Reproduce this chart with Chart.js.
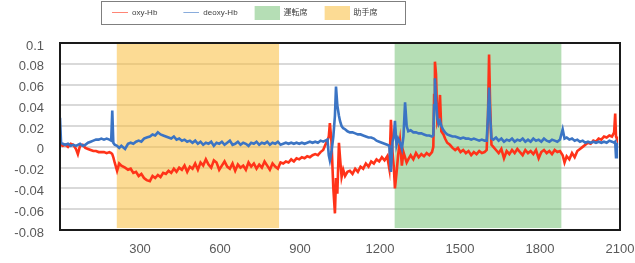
<!DOCTYPE html>
<html><head><meta charset="utf-8">
<script src="https://cdn.jsdelivr.net/npm/chart.js@4.4.1/dist/chart.umd.min.js"></script>
<style>html,body{margin:0;padding:0;background:#fff}#wrap{width:635px;height:263px}</style>
</head><body><div id="wrap"><canvas id="c" width="635" height="263"></canvas></div>
<script>
const time = [0,4,10,20,30,40,50,60,67,75,85,95,105,115,125,135,145,155,165,175,185,192,196,200,205,214,222,230,244,255,265,275,285,295,305,315,325,337,347,357,367,377,387,397,407,417,427,437,447,457,467,477,487,497,507,517,527,537,547,557,567,577,587,597,607,617,627,637,647,657,667,677,687,697,707,717,727,737,747,757,767,777,787,797,807,817,827,837,847,857,867,877,887,897,907,917,927,937,947,957,967,977,987,995,1003,1008,1012,1018,1025,1031,1035,1040,1046,1050,1056,1062,1069,1078,1087,1097,1107,1117,1127,1137,1147,1157,1167,1177,1187,1197,1207,1217,1227,1235,1241,1247,1252,1256,1262,1268,1275,1282,1288,1294,1300,1306,1315,1325,1335,1345,1355,1365,1375,1385,1395,1400,1403,1406,1410,1415,1420,1425,1430,1438,1444,1452,1462,1472,1482,1492,1502,1512,1522,1532,1542,1552,1562,1572,1582,1592,1600,1605,1609,1613,1618,1625,1635,1645,1655,1665,1675,1685,1695,1705,1715,1725,1735,1745,1755,1765,1775,1785,1795,1805,1815,1825,1835,1845,1855,1865,1875,1885,1892,1900,1910,1920,1930,1940,1950,1960,1970,1980,1990,2000,2010,2020,2030,2040,2050,2060,2070,2078,2082,2085,2088];
const oxyHb = [0.002,0.002,0.001,0.002,0.000,0.003,0.002,-0.002,-0.007,0.001,0.002,-0.001,-0.002,-0.003,-0.004,-0.004,-0.005,-0.005,-0.005,-0.006,-0.005,-0.006,-0.007,-0.010,-0.015,-0.023,-0.016,-0.018,-0.020,-0.022,-0.021,-0.025,-0.024,-0.028,-0.026,-0.030,-0.032,-0.033,-0.028,-0.030,-0.027,-0.029,-0.025,-0.026,-0.023,-0.025,-0.021,-0.024,-0.020,-0.022,-0.018,-0.024,-0.019,-0.021,-0.016,-0.022,-0.015,-0.018,-0.012,-0.017,-0.020,-0.013,-0.015,-0.022,-0.018,-0.014,-0.019,-0.021,-0.016,-0.023,-0.017,-0.020,-0.018,-0.022,-0.015,-0.019,-0.016,-0.021,-0.017,-0.020,-0.014,-0.018,-0.022,-0.016,-0.019,-0.021,-0.015,-0.016,-0.014,-0.015,-0.012,-0.014,-0.011,-0.012,-0.010,-0.011,-0.009,-0.010,-0.008,-0.007,-0.008,-0.005,-0.003,0.002,0.006,0.010,0.023,0.005,-0.040,-0.064,-0.030,-0.045,0.004,-0.010,-0.029,-0.022,-0.028,-0.024,-0.023,-0.026,-0.021,-0.024,-0.019,-0.021,-0.016,-0.019,-0.014,-0.016,-0.012,-0.014,-0.010,-0.013,-0.009,-0.021,0.026,-0.005,-0.020,-0.040,-0.025,-0.008,0.006,-0.018,-0.005,-0.010,-0.015,-0.012,-0.008,-0.012,-0.006,-0.010,-0.007,-0.009,-0.006,-0.008,-0.005,0.000,0.050,0.082,0.070,0.025,0.030,0.050,0.015,0.012,0.008,0.004,0.002,-0.001,-0.003,-0.001,-0.005,-0.003,-0.006,-0.004,-0.008,-0.005,-0.007,-0.004,-0.006,-0.005,-0.003,0.030,0.089,0.040,0.002,0.000,-0.003,-0.006,-0.002,-0.011,-0.004,-0.007,-0.003,-0.006,-0.002,-0.005,-0.008,-0.003,-0.006,-0.004,-0.007,-0.003,-0.011,-0.005,-0.003,-0.006,-0.004,-0.007,-0.003,-0.005,-0.004,-0.008,-0.015,-0.009,-0.012,-0.006,-0.010,-0.004,-0.002,0.000,0.002,0.004,0.003,0.006,0.005,0.008,0.007,0.010,0.009,0.011,0.010,0.014,0.032,0.010,0.008];
const deoxyHb = [0.028,0.004,0.003,0.002,0.003,0.001,0.002,0.001,0.002,0.003,0.001,0.002,0.004,0.005,0.006,0.007,0.007,0.008,0.007,0.008,0.007,0.006,0.035,0.004,0.002,0.001,-0.001,0.001,-0.002,0.003,0.004,0.003,0.005,0.006,0.005,0.008,0.009,0.010,0.012,0.011,0.014,0.012,0.011,0.010,0.009,0.008,0.010,0.007,0.008,0.006,0.007,0.005,0.006,0.004,0.006,0.003,0.005,0.002,0.004,0.003,0.005,0.001,0.004,0.003,0.005,0.002,0.004,0.006,0.002,0.003,0.005,0.002,0.004,0.003,0.001,0.004,0.003,0.005,0.002,0.004,0.003,0.005,0.002,0.004,0.003,0.005,0.002,0.003,0.004,0.003,0.004,0.003,0.004,0.003,0.004,0.003,0.004,0.005,0.004,0.005,0.004,0.006,0.005,0.006,0.007,-0.008,-0.013,-0.005,0.010,0.030,0.058,0.040,0.030,0.025,0.020,0.018,0.017,0.015,0.014,0.014,0.013,0.012,0.012,0.011,0.010,0.009,0.009,0.008,0.006,0.005,0.004,0.003,0.002,0.001,-0.024,0.005,0.010,0.025,0.002,0.008,0.004,-0.002,0.010,0.043,0.020,0.015,0.016,0.014,0.014,0.013,0.013,0.012,0.011,0.011,0.010,0.011,0.040,0.066,0.045,0.028,0.022,0.025,0.020,0.016,0.014,0.012,0.011,0.010,0.010,0.009,0.008,0.009,0.008,0.008,0.007,0.008,0.007,0.006,0.007,0.006,0.006,0.030,0.057,0.030,0.008,0.007,0.009,0.006,0.008,0.005,0.007,0.006,0.008,0.005,0.007,0.006,0.008,0.005,0.007,0.005,0.008,0.006,0.007,0.005,0.008,0.006,0.005,0.007,0.006,0.005,0.007,0.017,0.008,0.009,0.007,0.008,0.006,0.007,0.005,0.006,0.004,0.005,0.004,0.005,0.004,0.005,0.004,0.005,0.004,0.006,0.005,0.004,0.005,-0.010,0.004];
const driverSeat = [1254, 1881];
const passengerSeat = [212, 822];
const seatTop = 0.1;
const seatBottom = -0.078;
const seriesLabels = ['oxy-Hb', 'deoxy-Hb', '運転席', '助手席'];
const xTicks = [300, 600, 900, 1200, 1500, 1800, 2100];
const yTicks = [-0.08, -0.06, -0.04, -0.02, 0, 0.02, 0.04, 0.06, 0.08, 0.1];
const yTickLabels = ['-0.08', '-0.06', '-0.04', '-0.02', '0', '0.02', '0.04', '0.06', '0.08', '0.1'];

const RED = '#ff3319', BLUE = '#3b74c4';
const GREEN = 'rgba(120,195,120,0.55)', ORANGE = 'rgba(250,190,60,0.55)';
const FONT = "'Liberation Sans', 'Noto Sans CJK JP', sans-serif";

function lineIcon(color) {
  const c = document.createElement('canvas'); c.width = 30; c.height = 1;
  const g = c.getContext('2d'); g.fillStyle = color; g.globalAlpha = 0.6; g.fillRect(14, 0, 16, 1); return c;
}
function boxIcon(color) {
  const c = document.createElement('canvas'); c.width = 30; c.height = 14;
  const g = c.getContext('2d'); g.fillStyle = color; g.fillRect(5, 0, 25, 14); return c;
}
const icons = [lineIcon(RED), lineIcon(BLUE), boxIcon(GREEN), boxIcon(ORANGE)];

const seatData = r => r.map(x => ({x, y: seatTop}));

const framePlugin = {
  id: 'frame',
  afterLayout(chart) {
    chart.legend.left = 86;
    chart.legend.top = -3.5;
  },
  afterDatasetsDraw(chart) {
    const {ctx, chartArea: a} = chart;
    ctx.save(); ctx.strokeStyle = '#1a1a1a'; ctx.lineWidth = 2;
    ctx.strokeRect(a.left, a.top, a.right - a.left, a.bottom - a.top);
    ctx.restore();
  },
  afterDraw(chart) {
    const {ctx} = chart; const L = chart.legend;
    ctx.save(); ctx.strokeStyle = '#7f7f7f'; ctx.lineWidth = 1;
    ctx.strokeRect(L.left + 15.5, 1.5, 304, 23);
    ctx.restore();
  }
};

new Chart(document.getElementById('c'), {
  type: 'line',
  data: {
    datasets: [
      {label: seriesLabels[0], data: time.map((t, i) => ({x: t, y: oxyHb[i]})), borderColor: RED, borderWidth: 2.6, pointRadius: 0, order: 2, fill: false},
      {label: seriesLabels[1], data: time.map((t, i) => ({x: t, y: deoxyHb[i]})), borderColor: BLUE, borderWidth: 2.6, pointRadius: 0, order: 1, fill: false},
      {label: seriesLabels[2], data: seatData(driverSeat), borderWidth: 0, borderColor: 'transparent', backgroundColor: GREEN, pointRadius: 0, order: 3, fill: {value: seatBottom}},
      {label: seriesLabels[3], data: seatData(passengerSeat), borderWidth: 0, borderColor: 'transparent', backgroundColor: ORANGE, pointRadius: 0, order: 4, fill: {value: seatBottom}}
    ]
  },
  options: {
    responsive: false, animation: false, devicePixelRatio: 1,
    layout: {padding: {top: 13, right: 15, bottom: 0, left: 0}},
    plugins: {
      tooltip: {enabled: false},
      legend: {
        position: 'top', align: 'start',
        labels: {
          usePointStyle: true, pointStyleWidth: 30, padding: 12, color: '#404040',
          font: {family: FONT, size: 8},
          sort: (a, b) => a.datasetIndex - b.datasetIndex,
          generateLabels: chart => chart.data.datasets.map((ds, i) => ({
            text: ds.label, pointStyle: icons[i], datasetIndex: i, hidden: false,
            fillStyle: 'transparent', strokeStyle: 'transparent', lineWidth: 0, fontColor: '#404040'
          }))
        }
      }
    },
    scales: {
      x: {
        type: 'linear', min: 0, max: 2100,
        afterBuildTicks: s => { s.ticks = xTicks.map(v => ({value: v})); },
        afterFit: s => { s.height = 33; s.paddingLeft = 0; s.paddingRight = 0; },
        grid: {display: false, drawTicks: false},
        border: {display: false},
        ticks: {padding: 12, color: '#595959', font: {family: FONT, size: 13}, maxRotation: 0, autoSkip: false, callback: v => String(v)}
      },
      y: {
        type: 'linear', min: -0.08, max: 0.1,
        afterBuildTicks: s => { s.ticks = yTicks.map(v => ({value: v})); },
        afterFit: s => { s.width = 60; },
        grid: {color: '#d9d9d9', lineWidth: 2, drawTicks: false},
        border: {display: false},
        ticks: {padding: 16, labelOffset: 3, color: '#595959', font: {family: FONT, size: 13}, autoSkip: false,
          callback: (v, i) => yTickLabels[i]}
      }
    }
  },
  plugins: [framePlugin]
});
</script>
</body></html>
